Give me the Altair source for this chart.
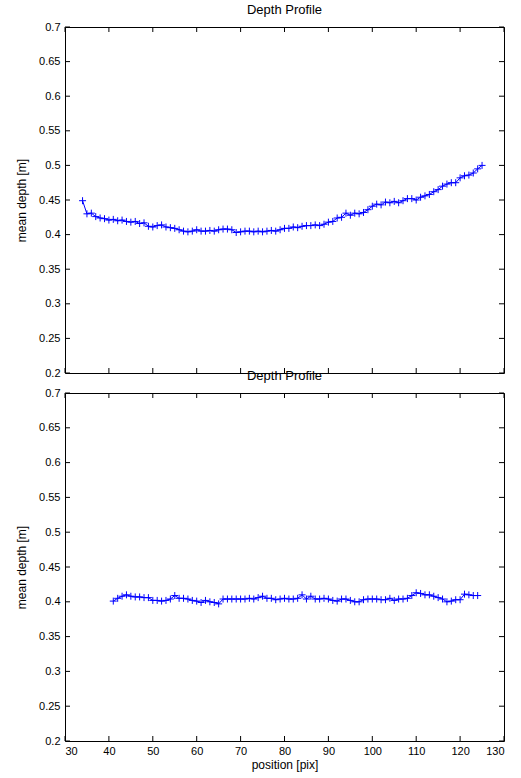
import altair as alt
import pandas as pd

# ---- data ----
top_x = list(range(34, 126))
top_y = [0.449, 0.430, 0.431, 0.426, 0.424, 0.423, 0.421, 0.422, 0.420, 0.421,
         0.419, 0.418, 0.419, 0.416, 0.417, 0.412, 0.411, 0.413, 0.414, 0.411,
         0.410, 0.409, 0.407, 0.405, 0.404, 0.405, 0.407, 0.405, 0.405, 0.406,
         0.405, 0.407, 0.408, 0.408, 0.407, 0.403, 0.404, 0.405, 0.405, 0.404,
         0.405, 0.404, 0.405, 0.406, 0.405, 0.407, 0.409, 0.409, 0.411, 0.410,
         0.412, 0.413, 0.413, 0.414, 0.413, 0.415, 0.418, 0.419, 0.424, 0.425,
         0.431, 0.428, 0.431, 0.430, 0.432, 0.436, 0.441, 0.444, 0.443, 0.447,
         0.446, 0.448, 0.446, 0.449, 0.452, 0.452, 0.450, 0.454, 0.456, 0.458,
         0.462, 0.465, 0.470, 0.473, 0.475, 0.475, 0.482, 0.485, 0.486, 0.489,
         0.495, 0.500]
bot_x = list(range(41, 125))
bot_y = [0.401, 0.405, 0.408, 0.410, 0.408, 0.407, 0.407, 0.406, 0.406, 0.402,
         0.402, 0.401, 0.402, 0.404, 0.409, 0.405, 0.405, 0.404, 0.402, 0.401,
         0.399, 0.402, 0.400, 0.399, 0.397, 0.404, 0.404, 0.404, 0.404, 0.404,
         0.404, 0.405, 0.404, 0.406, 0.408, 0.405, 0.405, 0.403, 0.404, 0.405,
         0.404, 0.404, 0.405, 0.410, 0.404, 0.408, 0.404, 0.404, 0.405, 0.404,
         0.402, 0.401, 0.404, 0.404, 0.402, 0.400, 0.400, 0.403, 0.404, 0.404,
         0.404, 0.403, 0.403, 0.405, 0.402, 0.404, 0.404, 0.405, 0.409, 0.413,
         0.412, 0.410, 0.410, 0.408, 0.406, 0.404, 0.400, 0.401, 0.403, 0.403,
         0.411, 0.410, 0.409, 0.409]
x_ticks = [30, 40, 50, 60, 70, 80, 90, 100, 110, 120, 130]
y_ticks = [0.2, 0.25, 0.3, 0.35, 0.4, 0.45, 0.5, 0.55, 0.6, 0.65, 0.7]

W = 439
FONT = "Liberation Sans"
PLUS = "M-1,0L1,0M0,-1L0,1"
BLUE = "#0000ff"
TICK = 5


def panel(xs, ys, h, show_x_labels):
    df = pd.DataFrame({"x": xs, "y": ys})
    xscale = alt.Scale(domain=[30, 130], nice=False, zero=False)
    yscale = alt.Scale(domain=[0.2, 0.7], nice=False, zero=False)
    if show_x_labels:
        xaxis = alt.Axis(values=x_ticks, title="position [pix]", ticks=False,
                         domain=False, grid=False, labelPadding=4, format="d",
                         titlePadding=3)
        X = alt.X("x:Q", scale=xscale, axis=xaxis)
    else:
        X = alt.X("x:Q", scale=xscale, axis=None)
    yaxis = alt.Axis(values=y_ticks, title="mean depth [m]", ticks=False,
                     domain=False, grid=False, labelPadding=5, format="~g",
                     titlePadding=10)
    Y = alt.Y("y:Q", scale=yscale, axis=yaxis)
    line = alt.Chart(df).mark_line(color=BLUE, strokeWidth=1).encode(x=X, y=Y)
    pts = alt.Chart(df).mark_point(shape=PLUS, size=49, color=BLUE, filled=False,
                                   strokeWidth=1, opacity=1).encode(x=X, y=Y)
    xt = pd.DataFrame({"x": x_ticks})
    yt = pd.DataFrame({"y": y_ticks})
    tb = alt.Chart(xt).mark_rule(color="black").encode(x=X, y=alt.value(h), y2=alt.value(h - TICK))
    tt = alt.Chart(xt).mark_rule(color="black").encode(x=X, y=alt.value(0), y2=alt.value(TICK))
    tl = alt.Chart(yt).mark_rule(color="black").encode(y=Y, x=alt.value(0), x2=alt.value(TICK))
    tr = alt.Chart(yt).mark_rule(color="black").encode(y=Y, x=alt.value(W), x2=alt.value(W - TICK))
    return alt.layer(line, pts, tb, tt, tl, tr).properties(
        width=W, height=h,
        title=alt.TitleParams("Depth Profile", fontSize=13, fontWeight="normal",
                              font=FONT, color="black", offset=4, anchor="middle"),
    )


top = panel(top_x, top_y, 346, False)
bot = panel(bot_x, bot_y, 348, True)

chart = alt.vconcat(top, bot, spacing=-10).properties(
    padding={"left": 15, "top": 3, "right": 16, "bottom": 3},
    background="white",
).configure_view(stroke="black", strokeWidth=1).configure_axis(
    labelFont=FONT, labelFontSize=11, labelColor="black",
    titleFont=FONT, titleFontSize=12, titleFontWeight="normal", titleColor="black",
)

chart.save("out.html", embed_options={"renderer": "svg", "actions": False})
